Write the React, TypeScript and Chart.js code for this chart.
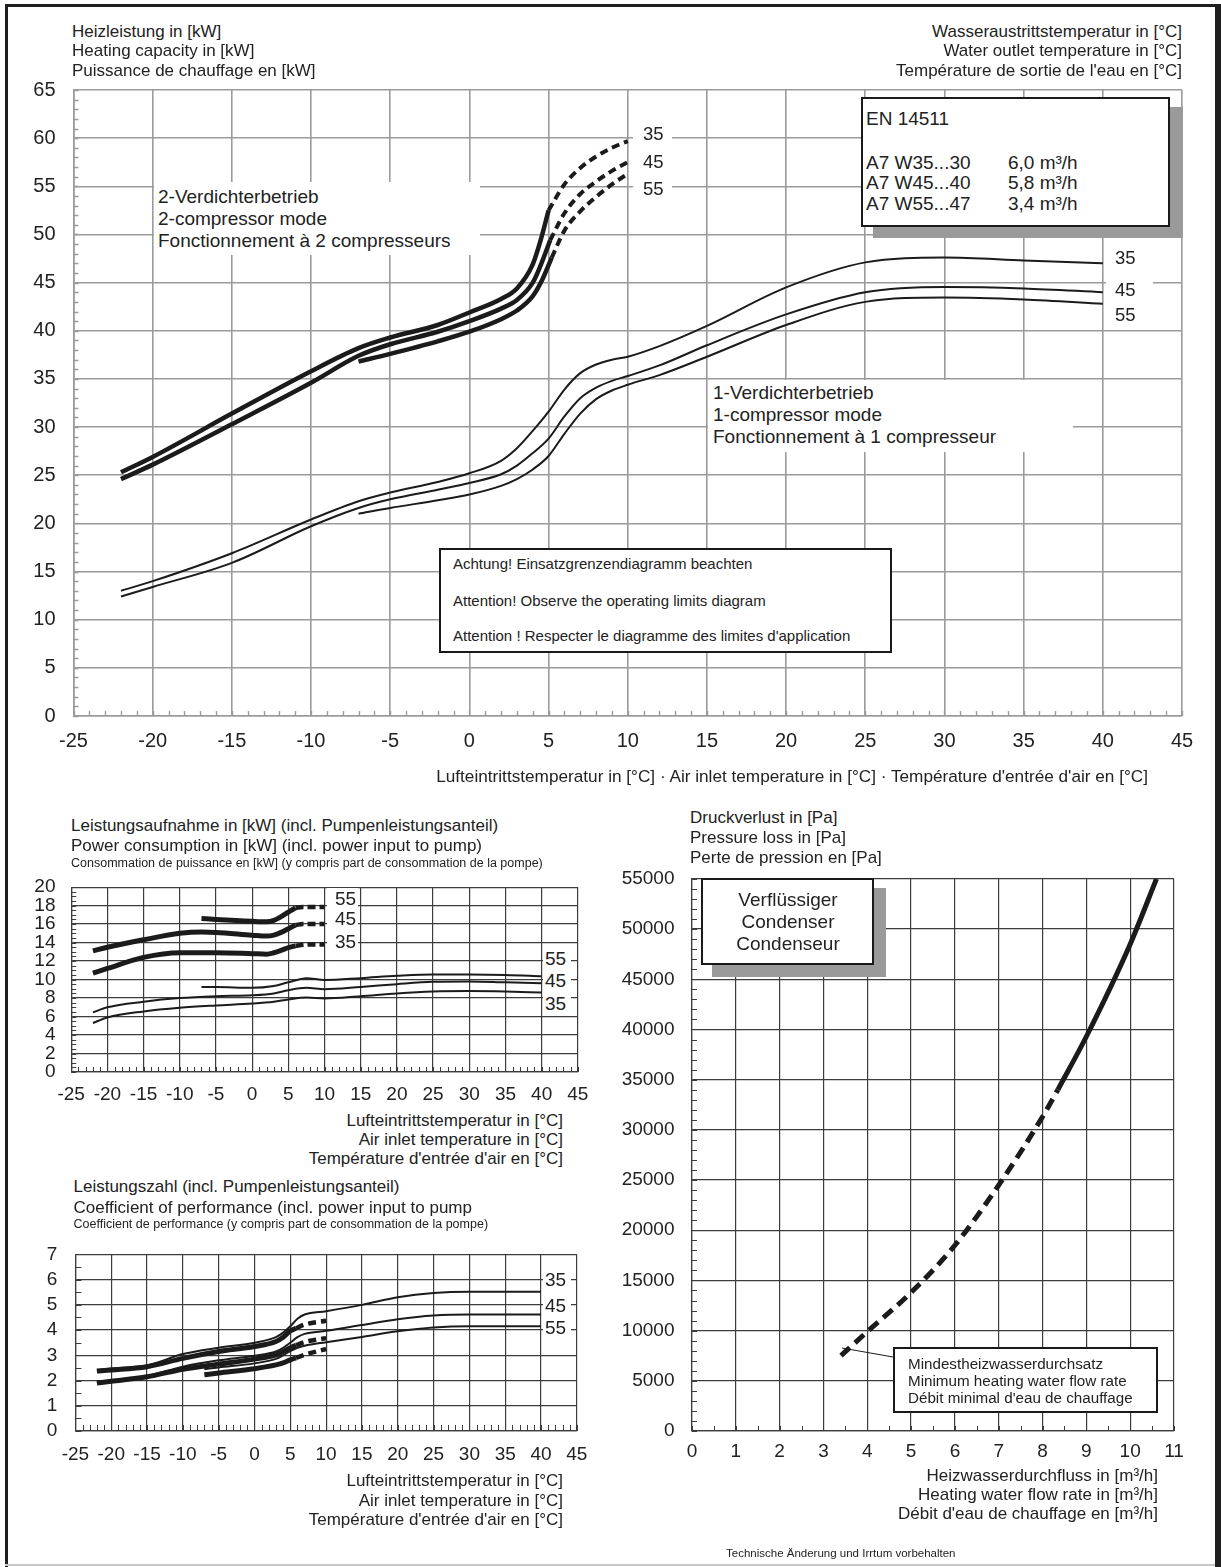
import React, { useEffect, useRef } from "react";
import { Chart, registerables } from "chart.js";

Chart.register(...registerables);

type P = [number, number];

// ---------- Heating capacity [kW] vs air inlet temperature [°C] ----------
const heat2c35: P[] = [[-22, 25.3], [-20, 26.9], [-15, 31.4], [-10, 35.8], [-7, 38.2], [-5, 39.3], [-2, 40.6], [0, 41.9], [2, 43.3], [3, 44.4], [4, 46.9], [4.5, 49.4], [5, 52.5]];
const heat2c35Ext: P[] = [[5, 52.5], [6, 55.2], [7, 56.9], [8, 58.1], [9, 59.0], [10, 59.7]];
const heat2c45: P[] = [[-22, 24.6], [-20, 26.1], [-15, 30.3], [-10, 34.6], [-7, 37.4], [-5, 38.6], [-2, 39.9], [0, 41.0], [2, 42.3], [3, 43.2], [4, 45.0], [4.5, 46.8], [5.1, 49.4]];
const heat2c45Ext: P[] = [[5.1, 49.4], [6, 52.2], [7, 54.2], [8, 55.5], [9, 56.6], [10, 57.5]];
const heat2c55: P[] = [[-7, 36.8], [-5, 37.6], [-2, 38.9], [0, 39.9], [2, 41.2], [3, 42.1], [4, 43.6], [4.6, 45.3], [5.2, 47.6]];
const heat2c55Ext: P[] = [[5.2, 47.6], [6, 50.4], [7, 52.4], [8, 53.9], [9, 55.2], [10, 56.3]];
const heat1c35: P[] = [[-22, 13.0], [-20, 14.0], [-15, 16.9], [-10, 20.4], [-7, 22.3], [-5, 23.2], [-2, 24.3], [0, 25.2], [2, 26.5], [3, 27.8], [4, 29.6], [5, 31.6], [6, 33.9], [7, 35.6], [8, 36.5], [9, 37.0], [10, 37.3], [12, 38.4], [15, 40.5], [20, 44.5], [25, 47.1], [30, 47.6], [35, 47.3], [40, 47.0]];
const heat1c45: P[] = [[-22, 12.4], [-20, 13.4], [-15, 15.9], [-10, 19.7], [-7, 21.6], [-5, 22.5], [-2, 23.5], [0, 24.2], [2, 25.1], [3, 26.0], [4, 27.3], [5, 28.8], [6, 31.1], [7, 33.0], [8, 34.1], [9, 34.8], [10, 35.3], [12, 36.4], [15, 38.5], [20, 41.7], [25, 44.0], [30, 44.55], [35, 44.4], [40, 44.0]];
const heat1c55: P[] = [[-7, 21.0], [-5, 21.6], [-2, 22.4], [0, 23.0], [2, 23.9], [3, 24.6], [4, 25.6], [5, 27.0], [6, 29.3], [7, 31.4], [8, 32.9], [9, 33.8], [10, 34.4], [12, 35.4], [15, 37.3], [20, 40.6], [25, 43.0], [30, 43.45], [35, 43.25], [40, 42.8]];

// ---------- Power consumption [kW] ----------
const pow2c35: P[] = [[-22, 10.7], [-20, 11.2], [-15, 12.4], [-10, 12.9], [-5, 12.9], [0, 12.8], [2, 12.75], [3, 12.9], [4, 13.15], [5, 13.45], [6, 13.65]];
const pow2c35Ext: P[] = [[6, 13.65], [7, 13.75], [8, 13.8], [10, 13.8]];
const pow2c45: P[] = [[-22, 13.1], [-20, 13.5], [-15, 14.3], [-10, 15.0], [-7, 15.15], [-5, 15.1], [0, 14.8], [2, 14.7], [3, 14.8], [4, 15.1], [5, 15.5], [6, 15.9]];
const pow2c45Ext: P[] = [[6, 15.9], [7, 16.0], [8, 16.0], [10, 16.0]];
const pow2c55: P[] = [[-7, 16.6], [-5, 16.5], [0, 16.3], [2, 16.25], [3, 16.4], [4, 16.8], [5, 17.3], [6, 17.75]];
const pow2c55Ext: P[] = [[6, 17.75], [7, 17.85], [8, 17.85], [10, 17.85]];
const pow1c35: P[] = [[-22, 5.3], [-20, 5.9], [-15, 6.55], [-10, 6.95], [-5, 7.2], [0, 7.4], [3, 7.6], [5, 7.85], [7.5, 8.05], [10, 7.95], [15, 8.2], [20, 8.5], [25, 8.7], [30, 8.75], [35, 8.7], [40, 8.6]];
const pow1c45: P[] = [[-22, 6.45], [-20, 7.0], [-15, 7.6], [-10, 8.0], [-5, 8.2], [0, 8.3], [3, 8.5], [5, 8.85], [7.5, 9.1], [10, 8.95], [15, 9.2], [20, 9.5], [25, 9.75], [30, 9.8], [35, 9.7], [40, 9.6]];
const pow1c55: P[] = [[-7, 9.2], [-5, 9.2], [0, 9.1], [3, 9.3], [5, 9.7], [7.5, 10.15], [10, 9.95], [15, 10.15], [20, 10.4], [25, 10.55], [30, 10.55], [35, 10.5], [40, 10.35]];

// ---------- Coefficient of performance ----------
const cop2c35: P[] = [[-22, 2.38], [-20, 2.42], [-15, 2.55], [-10, 2.88], [-5, 3.15], [0, 3.35], [3, 3.55], [4, 3.72], [5, 3.97], [5.8, 4.07]];
const cop2c35Ext: P[] = [[5.8, 4.07], [7, 4.22], [10, 4.37]];
const cop2c45: P[] = [[-22, 1.9], [-20, 1.97], [-15, 2.15], [-10, 2.45], [-5, 2.65], [0, 2.85], [3, 3.02], [4, 3.15], [5, 3.3], [5.8, 3.4]];
const cop2c45Ext: P[] = [[5.8, 3.4], [7, 3.53], [10, 3.68]];
const cop2c55: P[] = [[-7, 2.23], [-5, 2.3], [0, 2.47], [3, 2.62], [4, 2.7], [5, 2.82], [5.8, 2.9]];
const cop2c55Ext: P[] = [[5.8, 2.9], [7, 3.02], [10, 3.25]];
const cop1c35: P[] = [[-22, 2.42], [-20, 2.48], [-15, 2.6], [-10, 3.05], [-5, 3.3], [0, 3.5], [3, 3.72], [4, 3.9], [5, 4.15], [6, 4.45], [7, 4.62], [10, 4.75], [15, 5.0], [20, 5.3], [25, 5.47], [30, 5.52], [35, 5.52], [40, 5.52]];
const cop1c45: P[] = [[-22, 1.92], [-20, 2.0], [-15, 2.18], [-10, 2.55], [-5, 2.8], [0, 2.98], [3, 3.15], [4, 3.3], [5, 3.5], [6, 3.72], [7, 3.85], [10, 3.97], [15, 4.2], [20, 4.43], [25, 4.58], [30, 4.62], [35, 4.62], [40, 4.62]];
const cop1c55: P[] = [[-7, 2.45], [-5, 2.52], [0, 2.68], [3, 2.86], [4, 3.0], [5, 3.17], [6, 3.3], [7, 3.38], [10, 3.52], [15, 3.73], [20, 3.95], [25, 4.1], [30, 4.15], [35, 4.15], [40, 4.15]];

// ---------- Condenser pressure loss [Pa] vs heating water flow [m³/h] ----------
const pressLow: P[] = [[3.4, 7500], [4, 9900], [5, 13800], [6, 18500], [7, 24500], [8, 31300], [8.35, 34000]];
const pressHigh: P[] = [[8.35, 34000], [9, 39300], [10, 48500], [10.6, 55000]];

// ---------- Tick values ----------
const tempTicks = [-25, -20, -15, -10, -5, 0, 5, 10, 15, 20, 25, 30, 35, 40, 45];
const heatTicks = [0, 5, 10, 15, 20, 25, 30, 35, 40, 45, 50, 55, 60, 65];
const powTicks = [0, 2, 4, 6, 8, 10, 12, 14, 16, 18, 20];
const copTicks = [0, 1, 2, 3, 4, 5, 6, 7];
const flowTicks = [0, 1, 2, 3, 4, 5, 6, 7, 8, 9, 10, 11];
const pressTicks = [0, 5000, 10000, 15000, 20000, 25000, 30000, 35000, 40000, 45000, 50000, 55000];

const FONT = '"Liberation Sans", Arial, Helvetica, sans-serif';
const INK = "#1b1b1b";
const TXT = "#222";
const PAGE_W = 1221;
const PAGE_H = 1567;

const minorTicksPlugin = {
  id: "minorTicks",
  beforeDatasetsDraw(chart: any, _args: any, o: any) {
    if (!o || !o.len) return;
    const { ctx, chartArea: a, scales } = chart;
    const x = scales.x;
    const y = scales.y;
    ctx.save();
    ctx.strokeStyle = o.color;
    ctx.lineWidth = o.width;
    ctx.beginPath();
    const n = Math.round((x.max - x.min) / o.xStep);
    for (let i = 0; i <= n; i++) {
      const px = Math.round(x.getPixelForValue(x.min + i * o.xStep)) + 0.5;
      ctx.moveTo(px, a.bottom);
      ctx.lineTo(px, a.bottom - o.len);
    }
    const m = Math.round((y.max - y.min) / o.yStep);
    for (let j = 0; j <= m; j++) {
      const py = Math.round(y.getPixelForValue(y.min + j * o.yStep)) + 0.5;
      ctx.moveTo(a.left, py);
      ctx.lineTo(a.left + o.len, py);
    }
    ctx.stroke();
    ctx.restore();
  },
};

function scale(ticks: number[], o: { font: number; pad: number; size: number; y?: boolean; grid: string; gw: number }) {
  return {
    type: "linear",
    min: ticks[0],
    max: ticks[ticks.length - 1],
    afterBuildTicks: (s: any) => {
      s.ticks = ticks.map((v) => ({ value: v }));
    },
    afterFit: (s: any) => {
      if (o.y) s.width = o.size;
      else s.height = o.size;
    },
    ticks: {
      font: { family: FONT, size: o.font },
      color: TXT,
      padding: o.pad,
      maxRotation: 0,
      minRotation: 0,
      autoSkip: false,
      callback: (v: any) => String(v),
    },
    grid: { color: o.grid, lineWidth: o.gw, drawTicks: false },
    border: { color: o.grid, width: o.gw },
  };
}

function curve(pts: P[], width: number, dash: number[] = []) {
  return {
    data: pts.map(([x, y]) => ({ x, y })),
    borderColor: INK,
    borderWidth: width,
    borderDash: dash,
    pointRadius: 0,
    pointHoverRadius: 0,
    fill: false,
    cubicInterpolationMode: "monotone",
    borderCapStyle: "butt",
    borderJoinStyle: "round",
  };
}

function config(datasets: any[], xs: any, ys: any, padding: any, minor: any) {
  return {
    type: "line",
    data: { datasets },
    options: {
      animation: false,
      responsive: false,
      maintainAspectRatio: false,
      events: [],
      layout: { padding },
      plugins: { legend: { display: false }, tooltip: { enabled: false }, minorTicks: minor },
      scales: { x: xs, y: ys },
    },
    plugins: [minorTicksPlugin],
  } as any;
}

function ChartPanel(props: { left: number; top: number; width: number; height: number; build: () => any }) {
  const ref = useRef<HTMLCanvasElement>(null);
  useEffect(() => {
    const c = new Chart(ref.current as HTMLCanvasElement, props.build());
    return () => c.destroy();
  }, []);
  return (
    <canvas
      ref={ref}
      width={props.width}
      height={props.height}
      style={{ position: "absolute", left: props.left, top: props.top, width: props.width, height: props.height }}
    />
  );
}

function T(props: { x: number; y: number; s: number; align?: "left" | "right" | "center"; children: any; style?: any }) {
  const L = Math.round(props.s * 1.25);
  const pos: any =
    props.align === "right"
      ? { right: PAGE_W - props.x }
      : props.align === "center"
      ? { left: props.x, transform: "translateX(-50%)" }
      : { left: props.x };
  return (
    <div
      style={{
        position: "absolute",
        top: props.y - L / 2,
        ...pos,
        fontSize: props.s,
        lineHeight: L + "px",
        whiteSpace: "nowrap",
        fontFamily: FONT,
        color: TXT,
        ...(props.style || {}),
      }}
    >
      {props.children}
    </div>
  );
}

function Rect(props: { x: number; y: number; w: number; h: number; bg?: string; border?: string }) {
  return (
    <div
      style={{
        position: "absolute",
        left: props.x,
        top: props.y,
        width: props.w,
        height: props.h,
        boxSizing: "border-box",
        background: props.bg || "#fff",
        border: props.border || "none",
      }}
    />
  );
}

const mainGrid = "#9b9b9b";
const lowGrid = "#3c3c3c";

function buildMain() {
  const ds = [
    curve(heat1c35, 2),
    curve(heat1c45, 2),
    curve(heat1c55, 2),
    curve(heat2c35, 4.5),
    curve(heat2c45, 4.5),
    curve(heat2c55, 4.5),
    curve(heat2c35Ext, 4, [8, 5]),
    curve(heat2c45Ext, 4, [8, 5]),
    curve(heat2c55Ext, 4, [8, 5]),
  ];
  return config(
    ds,
    scale(tempTicks, { font: 20, pad: 13.5, size: 45, grid: mainGrid, gw: 1.6 }),
    scale(heatTicks, { font: 20, pad: 18, size: 60, y: true, grid: mainGrid, gw: 1.6 }),
    { left: 13.5, top: 25, right: 28, bottom: 19 },
    { color: mainGrid, width: 1.4, xStep: 1, yStep: 1, len: 5 }
  );
}

function buildPower() {
  const ds = [
    curve(pow1c35, 2),
    curve(pow1c45, 2),
    curve(pow1c55, 2),
    curve(pow2c35, 5),
    curve(pow2c45, 5),
    curve(pow2c55, 5),
    curve(pow2c35Ext, 4.5, [8, 4]),
    curve(pow2c45Ext, 4.5, [8, 4]),
    curve(pow2c55Ext, 4.5, [8, 4]),
  ];
  return config(
    ds,
    scale(tempTicks, { font: 19, pad: 11.6, size: 30, grid: lowGrid, gw: 1.2 }),
    scale(powTicks, { font: 19, pad: 15.7, size: 55, y: true, grid: lowGrid, gw: 1.2 }),
    { left: 16.2, top: 18, right: 22, bottom: 8 },
    { color: lowGrid, width: 1, xStep: 1, yStep: 0.5, len: 5 }
  );
}

function buildCop() {
  const ds = [
    curve(cop1c35, 2),
    curve(cop1c45, 2),
    curve(cop1c55, 2),
    curve(cop2c35, 5),
    curve(cop2c45, 5),
    curve(cop2c55, 5),
    curve(cop2c35Ext, 4.5, [8, 5]),
    curve(cop2c45Ext, 4.5, [8, 5]),
    curve(cop2c55Ext, 4.5, [8, 5]),
  ];
  return config(
    ds,
    scale(tempTicks, { font: 19, pad: 12.6, size: 30, grid: lowGrid, gw: 1.2 }),
    scale(copTicks, { font: 19, pad: 18, size: 55, y: true, grid: lowGrid, gw: 1.2 }),
    { left: 20.4, top: 15, right: 22, bottom: 14 },
    { color: lowGrid, width: 1, xStep: 1, yStep: 0.5, len: 6 }
  );
}

function buildPressure() {
  const ds = [curve(pressLow, 5, [12, 7]), curve(pressHigh, 5)];
  return config(
    ds,
    scale(flowTicks, { font: 19, pad: 9.6, size: 30, grid: lowGrid, gw: 1.2 }),
    scale(pressTicks, { font: 19, pad: 17.5, size: 75, y: true, grid: lowGrid, gw: 1.2 }),
    { left: 17, top: 19, right: 36, bottom: 19 },
    { color: lowGrid, width: 1, xStep: 0.5, yStep: 1000, len: 5 }
  );
}

export default function App() {
  return (
    <div
      style={{
        position: "absolute",
        left: 0,
        top: 0,
        width: PAGE_W,
        height: PAGE_H,
        overflow: "hidden",
        background: "#fff",
        fontFamily: FONT,
      }}
    >
      {/* page frame */}
      <Rect x={5} y={4} w={1216} h={3} bg="#1e1e1e" />
      <Rect x={5} y={4} w={3} h={1563} bg="#1e1e1e" />
      <Rect x={1215} y={4} w={6} h={1563} bg="#1e1e1e" />
      <Rect x={5} y={1564} w={1210} h={2} bg="#c8c8c8" />

      {/* ===== main heating capacity chart ===== */}
      <ChartPanel left={0} top={60} width={1210} height={720} build={buildMain} />
      <T x={72} y={31} s={17}>Heizleistung in [kW]</T>
      <T x={72} y={50} s={17}>Heating capacity in [kW]</T>
      <T x={72} y={70} s={17}>Puissance de chauffage en [kW]</T>
      <T x={1182} y={31} s={17} align="right">Wasseraustrittstemperatur in [°C]</T>
      <T x={1182} y={50} s={17} align="right">Water outlet temperature in [°C]</T>
      <T x={1182} y={70} s={17} align="right">Température de sortie de l'eau en [°C]</T>

      <Rect x={154} y={182} w={326} h={73} />
      <T x={158} y={197} s={19}>2-Verdichterbetrieb</T>
      <T x={158} y={219} s={19}>2-compressor mode</T>
      <T x={158} y={241} s={19}>Fonctionnement à 2 compresseurs</T>

      <Rect x={708} y={380} w={365} h={72} />
      <T x={713} y={393} s={19}>1-Verdichterbetrieb</T>
      <T x={713} y={415} s={19}>1-compressor mode</T>
      <T x={713} y={437} s={19}>Fonctionnement à 1 compresseur</T>

      <Rect x={873} y={107} w={310} h={131} bg="#9a9a9a" />
      <Rect x={861} y={97} w={309} h={130} border="2px solid #1a1a1a" />
      <T x={866} y={119} s={19}>EN 14511</T>
      <T x={866} y={163} s={19}>A7 W35...30</T>
      <T x={866} y={183} s={19}>A7 W45...40</T>
      <T x={866} y={204} s={19}>A7 W55...47</T>
      <T x={1008} y={163} s={19}>6,0 m³/h</T>
      <T x={1008} y={183} s={19}>5,8 m³/h</T>
      <T x={1008} y={204} s={19}>3,4 m³/h</T>

      <Rect x={633} y={122} w={39} h={76} />
      <T x={643} y={133} s={18.5}>35</T>
      <T x={643} y={161} s={18.5}>45</T>
      <T x={643} y={188} s={18.5}>55</T>

      <Rect x={1106} y={246} w={47} h={78} />
      <T x={1115} y={257} s={18.5}>35</T>
      <T x={1115} y={289} s={18.5}>45</T>
      <T x={1115} y={314} s={18.5}>55</T>

      <Rect x={439} y={548} w={453} h={105} border="2px solid #1a1a1a" />
      <T x={453} y={563} s={15}>Achtung! Einsatzgrenzendiagramm beachten</T>
      <T x={453} y={600} s={15}>Attention! Observe the operating limits diagram</T>
      <T x={453} y={635} s={15}>Attention ! Respecter le diagramme des limites d'application</T>

      <T x={1148} y={776} s={17.2} align="right">
        Lufteintrittstemperatur in [°C] · Air inlet temperature in [°C] · Température d'entrée d'air en [°C]
      </T>

      {/* ===== power consumption chart ===== */}
      <ChartPanel left={0} top={860} width={600} height={250} build={buildPower} />
      <T x={71} y={825} s={17}>Leistungsaufnahme in [kW] (incl. Pumpenleistungsanteil)</T>
      <T x={71} y={845} s={17}>Power consumption in [kW] (incl. power input to pump)</T>
      <T x={71} y={863} s={12.5}>Consommation de puissance en [kW] (y compris part de consommation de la pompe)</T>
      <Rect x={327} y={888} w={31} h={64} />
      <T x={335} y={899} s={19}>55</T>
      <T x={335} y={919} s={19}>45</T>
      <T x={335} y={942} s={19}>35</T>
      <Rect x={543} y={946} w={28} h={70} />
      <T x={545} y={959} s={19}>55</T>
      <T x={545} y={981} s={19}>45</T>
      <T x={545} y={1004} s={19}>35</T>
      <T x={563} y={1120} s={17} align="right">Lufteintrittstemperatur in [°C]</T>
      <T x={563} y={1139} s={17} align="right">Air inlet temperature in [°C]</T>
      <T x={563} y={1158} s={17} align="right">Température d'entrée d'air en [°C]</T>

      {/* ===== COP chart ===== */}
      <ChartPanel left={0} top={1225} width={600} height={250} build={buildCop} />
      <T x={73.5} y={1186} s={17}>Leistungszahl (incl. Pumpenleistungsanteil)</T>
      <T x={73.5} y={1207} s={17}>Coefficient of performance (incl. power input to pump</T>
      <T x={73.5} y={1224} s={12.5}>Coefficient de performance (y compris part de consommation de la pompe)</T>
      <Rect x={543} y={1270} w={28} h={68} />
      <T x={545} y={1280} s={19}>35</T>
      <T x={545} y={1306} s={19}>45</T>
      <T x={545} y={1328} s={19}>55</T>
      <T x={563} y={1480} s={17} align="right">Lufteintrittstemperatur in [°C]</T>
      <T x={563} y={1500} s={17} align="right">Air inlet temperature in [°C]</T>
      <T x={563} y={1519} s={17} align="right">Température d'entrée d'air en [°C]</T>

      {/* ===== pressure loss chart ===== */}
      <ChartPanel left={600} top={850} width={610} height={630} build={buildPressure} />
      <T x={690} y={817} s={17}>Druckverlust in [Pa]</T>
      <T x={690} y={837} s={17}>Pressure loss in [Pa]</T>
      <T x={690} y={857} s={17}>Perte de pression en [Pa]</T>
      <Rect x={712} y={888} w={174} h={89} bg="#9a9a9a" />
      <Rect x={701} y={878} w={173} h={87} border="2px solid #1a1a1a" />
      <T x={788} y={900} s={19} align="center">Verflüssiger</T>
      <T x={788} y={922} s={19} align="center">Condenser</T>
      <T x={788} y={944} s={19} align="center">Condenseur</T>
      <svg
        width={PAGE_W}
        height={PAGE_H}
        style={{ position: "absolute", left: 0, top: 0, pointerEvents: "none" }}
      >
        <line x1={842} y1={1348} x2={893} y2={1357} stroke="#1a1a1a" strokeWidth={1} />
      </svg>
      <Rect x={893} y={1347} w={265} h={66} border="2px solid #1a1a1a" />
      <T x={908} y={1363} s={15.2}>Mindestheizwasserdurchsatz</T>
      <T x={908} y={1380} s={15.2}>Minimum heating water flow rate</T>
      <T x={908} y={1397} s={15.2}>Débit minimal d'eau de chauffage</T>
      <T x={1158} y={1475} s={17} align="right">Heizwasserdurchfluss in [m³/h]</T>
      <T x={1158} y={1494} s={17} align="right">Heating water flow rate in [m³/h]</T>
      <T x={1158} y={1513} s={17} align="right">Débit d'eau de chauffage en [m³/h]</T>

      <T x={726} y={1553} s={11.5}>Technische Änderung und Irrtum vorbehalten</T>
    </div>
  );
}
